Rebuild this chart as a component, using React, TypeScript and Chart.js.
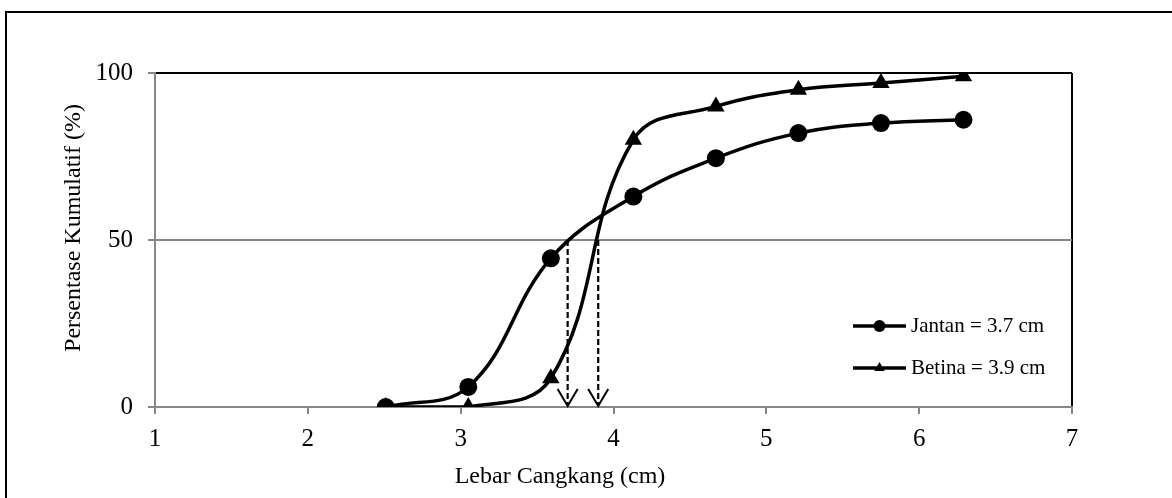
import React, { useEffect, useRef } from "react";
import { Chart, registerables } from "chart.js";

Chart.register(...registerables);

// ---- data ----
const widthClasses = [2.51, 3.05, 3.59, 4.13, 4.67, 5.21, 5.75, 6.29];
const jantanValues = [0, 6, 44.5, 63, 74.5, 82, 85, 86];
const betinaValues = [0, 0, 8.6, 80, 90, 95, 97, 99];
const seriesLabels = ["Jantan = 3.7 cm", "Betina = 3.9 cm"];
const seriesMarkers = ["circle", "triangle"];
const l50Values = [3.7, 3.9];
const l50Level = 50;
const xTickValues = [1, 2, 3, 4, 5, 6, 7];
const yTickValues = [0, 50, 100];
const xTitle = "Lebar Cangkang (cm)";
const yTitle = "Persentase Kumulatif (%)";

const FONT = '"Liberation Serif", "Times New Roman", serif';
const GRAY = "#868686";

function drawMarker(ctx: CanvasRenderingContext2D, style: string, x: number, y: number, r: number) {
  ctx.beginPath();
  if (style === "circle") {
    ctx.arc(x, y, r, 0, Math.PI * 2);
  } else {
    const h = r * 1.5;
    const w = r * Math.sqrt(3);
    ctx.moveTo(x, y - h / 2 - r / 4);
    ctx.lineTo(x + w / 2, y + h / 2 - r / 4);
    ctx.lineTo(x - w / 2, y + h / 2 - r / 4);
    ctx.closePath();
  }
  ctx.fillStyle = "#000";
  ctx.fill();
}

const decorPlugin = {
  id: "decor",
  afterDatasetsDraw(chart: any) {
    const { ctx, chartArea, scales } = chart;
    const xs = scales.x;
    const ys = scales.y;
    ctx.save();
    // dashed L50 arrows
    l50Values.forEach((v) => {
      const px = xs.getPixelForValue(v);
      const top = ys.getPixelForValue(l50Level);
      const bot = ys.getPixelForValue(0);
      ctx.strokeStyle = "#000";
      ctx.lineWidth = 2.2;
      ctx.setLineDash([6, 3]);
      ctx.beginPath();
      ctx.moveTo(px, top);
      ctx.lineTo(px, bot - 2);
      ctx.stroke();
      ctx.setLineDash([]);
      ctx.lineWidth = 2;
      ctx.beginPath();
      ctx.moveTo(px - 10, bot - 18);
      ctx.lineTo(px, bot - 1);
      ctx.lineTo(px + 10, bot - 18);
      ctx.stroke();
    });

    // legend
    const legendRows = [chartArea.bottom - 81, chartArea.bottom - 39];
    const lx0 = chartArea.right - 219;
    const lx1 = chartArea.right - 166;
    seriesLabels.forEach((label, i) => {
      const y = legendRows[i];
      ctx.strokeStyle = "#000";
      ctx.lineWidth = 3.5;
      ctx.beginPath();
      ctx.moveTo(lx0, y);
      ctx.lineTo(lx1, y);
      ctx.stroke();
      drawMarker(ctx, seriesMarkers[i], (lx0 + lx1) / 2, y, 6);
      ctx.fillStyle = "#000";
      ctx.font = `21px ${FONT}`;
      ctx.textAlign = "left";
      ctx.textBaseline = "middle";
      ctx.fillText(label, lx1 + 5, y);
    });

    // axis titles
    ctx.fillStyle = "#000";
    ctx.font = `24px ${FONT}`;
    ctx.textAlign = "center";
    ctx.textBaseline = "middle";
    ctx.fillText(xTitle, 560, 477);
    ctx.save();
    ctx.translate(74, 228);
    ctx.rotate(-Math.PI / 2);
    ctx.fillText(yTitle, 0, 0);
    ctx.restore();
    ctx.restore();
  },
};

export default function App() {
  const canvasRef = useRef<HTMLCanvasElement | null>(null);

  useEffect(() => {
    const canvas = canvasRef.current;
    if (!canvas) return;
    const mk = (values: number[]) => widthClasses.map((x, i) => ({ x, y: values[i] }));
    const chart = new Chart(canvas, {
      type: "line",
      data: {
        datasets: [
          {
            label: seriesLabels[0],
            data: mk(jantanValues),
            borderColor: "#000",
            backgroundColor: "#000",
            borderWidth: 3.5,
            pointStyle: "circle",
            pointRadius: 9,
            pointBorderWidth: 0,
            tension: 0.4,
            fill: false,
          },
          {
            label: seriesLabels[1],
            data: mk(betinaValues),
            borderColor: "#000",
            backgroundColor: "#000",
            borderWidth: 3.5,
            pointStyle: "triangle",
            pointRadius: 10,
            pointBorderWidth: 0,
            tension: 0.4,
            fill: false,
          },
        ],
      },
      options: {
        responsive: false,
        animation: false,
        devicePixelRatio: 1,
        layout: { padding: { left: 0, right: 100, top: 73, bottom: 0 } },
        plugins: { legend: { display: false }, tooltip: { enabled: false } },
        scales: {
          x: {
            type: "linear",
            min: 1,
            max: 7,
            afterFit: (s: any) => {
              s.height = 91;
            },
            afterBuildTicks: (s: any) => {
              s.ticks = xTickValues.map((v) => ({ value: v }));
            },
            ticks: {
              color: "#000",
              font: { family: FONT, size: 25 },
              padding: 10,
              maxRotation: 0,
            },
            grid: {
              color: (c: any) => (c.tick && c.tick.value === 7 ? "#000" : "rgba(0,0,0,0)"),
              lineWidth: 2,
              tickColor: GRAY,
              tickLength: 7,
              tickWidth: 2,
            },
            border: { color: GRAY, width: 2 },
          },
          y: {
            type: "linear",
            min: 0,
            max: 100,
            afterFit: (s: any) => {
              s.width = 155;
            },
            afterBuildTicks: (s: any) => {
              s.ticks = yTickValues.map((v) => ({ value: v }));
            },
            ticks: {
              color: "#000",
              font: { family: FONT, size: 25 },
              padding: 15,
            },
            grid: {
              color: (c: any) =>
                c.tick && c.tick.value === 100 ? "#000" : c.tick && c.tick.value === 0 ? "rgba(0,0,0,0)" : GRAY,
              lineWidth: 2,
              tickColor: GRAY,
              tickLength: 7,
              tickWidth: 2,
            },
            border: { color: GRAY, width: 2 },
          },
        },
      },
      plugins: [decorPlugin],
    } as any);
    return () => chart.destroy();
  }, []);

  return (
    <div
      style={{
        position: "fixed",
        left: 0,
        top: 0,
        width: 1172,
        height: 498,
        overflow: "hidden",
        background: "#fff",
      }}
    >
      <div
        style={{
          position: "absolute",
          left: 5,
          top: 11,
          width: 1200,
          height: 520,
          borderTop: "2px solid #000",
          borderLeft: "2px solid #000",
        }}
      />
      <canvas
        ref={canvasRef}
        width={1172}
        height={498}
        style={{ position: "absolute", left: 0, top: 0, width: 1172, height: 498 }}
      />
    </div>
  );
}
